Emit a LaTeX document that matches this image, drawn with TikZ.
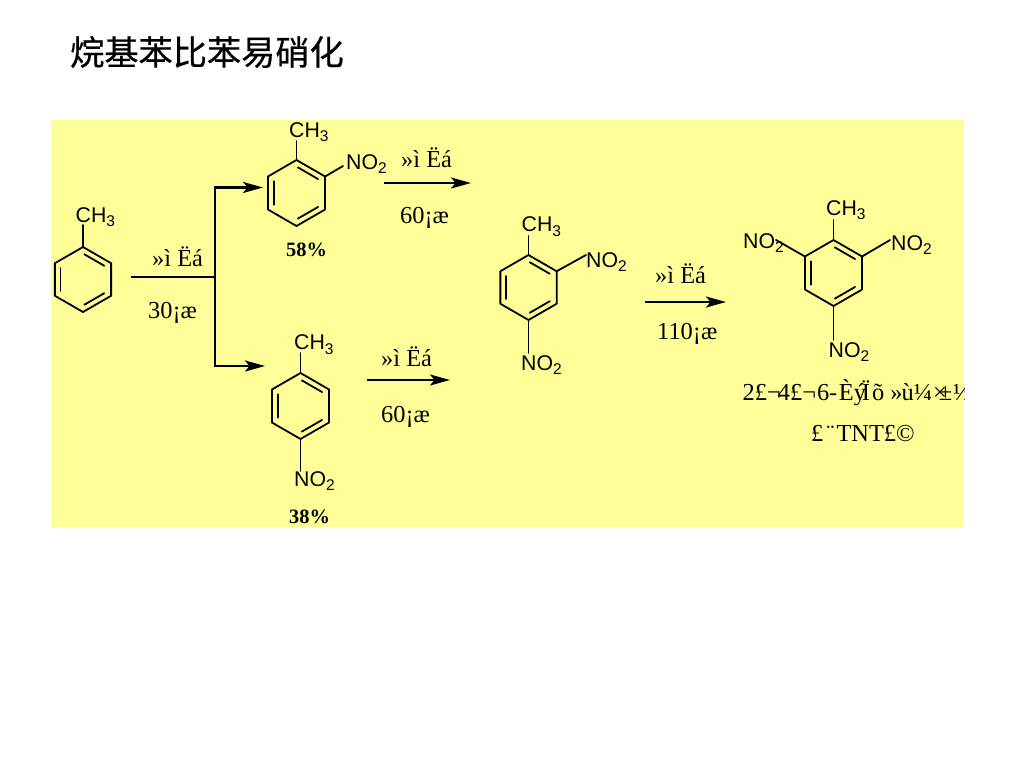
\documentclass[tikz,border=0pt]{standalone}
\usepackage{fontspec}
\setmainfont{Liberation Serif}
\newfontfamily\arialf{Liberation Sans}
\newfontfamily\cjkf[FakeBold=0.6]{Noto Sans CJK SC}
\usetikzlibrary{arrows.meta,calc}
\definecolor{panel}{HTML}{FFFF99}
\tikzset{
  bond/.style={line width=1.8pt,line cap=round,line join=round,black},
  innerbond/.style={bond,shorten <=1.5pt,shorten >=1.5pt},
  flow/.style={line width=2.5pt,black},
  flowtip/.style={flow,-{Stealth[length=20pt,width=11pt,inset=4.5pt]}},
  chem/.style={inner sep=0pt,anchor=base west,font=\fontsize{21.3}{21}\selectfont\arialf},
  cond/.style={inner sep=0pt,anchor=base west,font=\fontsize{24.4}{24}\selectfont},
  yield/.style={inner sep=0pt,anchor=base west,font=\fontsize{20.4}{20}\selectfont\bfseries},
}
\newcommand{\chemsub}[1]{\raisebox{-0.22em}{\fontsize{15.5}{15}\selectfont #1}}
\newcommand{\meth}{CH\chemsub{3}}
\newcommand{\nitro}{NO\chemsub{2}}
\newcommand{\ringat}[4]{%
  \coordinate (#1c) at (#2,#3);
  \coordinate (#1a) at (#2,{#3-#4});
  \coordinate (#1b) at ({#2+0.866*#4},{#3-0.5*#4});
  \coordinate (#1d) at ({#2+0.866*#4},{#3+0.5*#4});
  \coordinate (#1e) at (#2,{#3+#4});
  \coordinate (#1f) at ({#2-0.866*#4},{#3+0.5*#4});
  \coordinate (#1g) at ({#2-0.866*#4},{#3-0.5*#4});
  \draw[bond] (#1a) -- (#1b) -- (#1d) -- (#1e) -- (#1f) -- (#1g) -- cycle;
  \draw[innerbond] ($(#1c)!0.8!(#1a)$) -- ($(#1c)!0.8!(#1b)$);
  \draw[innerbond] ($(#1c)!0.8!(#1d)$) -- ($(#1c)!0.8!(#1e)$);
  \draw[innerbond] ($(#1c)!0.8!(#1f)$) -- ($(#1c)!0.8!(#1g)$);
}
\begin{document}
\begin{tikzpicture}[x=1pt,y=-1pt]
\useasboundingbox (0,0) rectangle (1024,768);
\node[inner sep=0pt,anchor=base west,font=\fontsize{34.2}{34}\selectfont\cjkf] (title) at (70,65) {烷基苯比苯易硝化};
\fill[panel] (51,120) rectangle (964,527);

% rings
\ringat{p}{83}{279.5}{32.5}
\ringat{q}{296.5}{193}{33}
\ringat{r}{300.5}{406}{33}
\ringat{s}{528.5}{287.5}{32.5}
\ringat{t}{833.5}{273}{33}

% bonds
\coordinate (pm) at (83,225);
\draw[bond] (pa) -- (pm);
\coordinate (qm) at (296.5,141);
\draw[bond] (qa) -- (qm);
\coordinate (qn) at (343,166);
\draw[bond] (qb) -- (qn);
\coordinate (rm) at (300.5,353);
\draw[bond] (ra) -- (rm);
\coordinate (rn) at (300.5,471);
\draw[bond] (re) -- (rn);
\coordinate (sm) at (528.5,236);
\draw[bond] (sa) -- (sm);
\coordinate (sn) at (586,255);
\draw[bond] (sb) -- (sn);
\coordinate (so) at (528.5,353);
\draw[bond] (se) -- (so);
\coordinate (tm) at (833.5,220);
\draw[bond] (ta) -- (tm);
\coordinate (tn) at (890,240);
\draw[bond] (tb) -- (tn);
\coordinate (to) at (776,240);
\draw[bond] (tg) -- (to);
\coordinate (tp) at (833.5,340);
\draw[bond] (te) -- (tp);

% chemical labels
\node[chem] (m1) at (75.5,222) {\meth};
\node[chem] (m2) at (289,137) {\meth};
\node[chem] (n2) at (346,169) {\nitro};
\node[chem] (m3) at (294,349.5) {\meth};
\node[chem] (n3) at (294,486) {\nitro};
\node[chem] (m4) at (521.5,231.5) {\meth};
\node[chem] (n4) at (586,267) {\nitro};
\node[chem] (o4) at (521,370) {\nitro};
\node[chem] (m5) at (826,215) {\meth};
\node[chem] (n5) at (743,248) {\nitro};
\node[chem] (o5) at (891,250) {\nitro};
\node[chem] (p5) at (828.5,357) {\nitro};

\node[yield] (y1) at (286,256) {58\%};
\node[yield] (y2) at (289,523) {38\%};

% flow arrows
\coordinate (fa) at (131,277);
\coordinate (fb) at (215,277);
\coordinate (fc) at (215,187.5);
\coordinate (fd) at (215,366);
\coordinate (fe) at (263,187.5);
\coordinate (ff) at (265,366);
\draw[flow] (fa) -- (fb);
\draw[flow,line cap=rect] (fc) -- (fd);
\draw[flowtip] (fc) -- (fe);
\draw[flowtip] (fd) -- (ff);
\coordinate (ga) at (384,183);
\coordinate (gb) at (471,183);
\draw[flowtip] (ga) -- (gb);
\coordinate (ha) at (367,380);
\coordinate (hb) at (450,380);
\draw[flowtip] (ha) -- (hb);
\coordinate (ia) at (645,302);
\coordinate (ib) at (726,302);
\draw[flowtip] (ia) -- (ib);

% conditions
\node[cond] (c1) at (152,266) {»ì Ëá};
\node[cond] (c2) at (148,318) {30¡æ};
\node[cond] (c3) at (401,167) {»ì Ëá};
\node[cond] (c4) at (400,223) {60¡æ};
\node[cond] (c5) at (381,366) {»ì Ëá};
\node[cond] (c6) at (381,422) {60¡æ};
\node[cond] (c7) at (655,283) {»ì Ëá};
\node[cond] (c8) at (657,339) {110¡æ};

\begin{scope}
\clip (51,120) rectangle (964,527);
\node[cond] (d1) at (742.5,400) {2£¬\kern-3pt 4£¬\kern1pt 6-\kern1.5pt Èý\kern-4pt Ï\kern2pt õ »\kern-1pt ù¼\kern1pt ×\kern-8pt ±\kern1pt ½};
\end{scope}
\node[cond] (d2) at (811,441) {£\kern3pt ¨\kern2pt TNT£©};
\end{tikzpicture}
\end{document}
